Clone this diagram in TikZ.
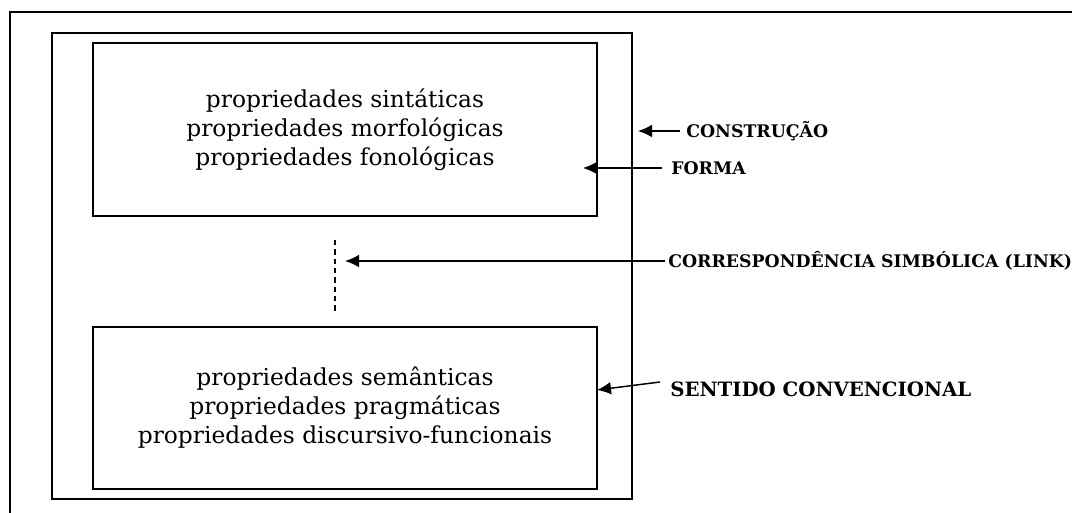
\documentclass[tikz,border=0pt]{standalone}
\usepackage{fontspec}
\setmainfont{DejaVu Serif}
\usetikzlibrary{arrows.meta}
\begin{document}
\begin{tikzpicture}[x=0.75pt,y=-0.75pt,
  frame/.style={line width=1.5pt},
  box/.style={draw, line width=1.5pt, inner sep=0pt},
  body/.style={align=center, font=\fontsize{17.5}{21.75}\selectfont},
  lbl/.style={anchor=west, inner sep=0pt, font=\bfseries\fontsize{13}{15}\selectfont},
  biglbl/.style={anchor=west, inner sep=0pt, font=\bfseries\fontsize{14.8}{17}\selectfont},
  arr/.style={-{Latex[length=10.5pt,width=9.5pt]}, line width=1.1pt},
  link/.style={dashed, dash pattern=on 4pt off 3pt, line width=0.9pt}]
\useasboundingbox (0,0) rectangle (1072,513);
% outer (cropped) frame
\draw[frame] (1072,12) -- (10,12) -- (10,513);
% construction box
\node[box, minimum width=435pt, minimum height=349.5pt] (cons) at (342,266) {};
% form box
\node[box, body, minimum width=378pt, minimum height=129.75pt] (forma) at (345,129.5)
  {propriedades sintáticas\\propriedades morfológicas\\propriedades fonológicas};
% meaning box
\node[box, body, minimum width=378pt, minimum height=121.5pt] (sent) at (345,408)
  {propriedades semânticas\\propriedades pragmáticas\\propriedades discursivo-funcionais};
% symbolic link (dashed)
\coordinate (d1) at (335,240);
\coordinate (d2) at (335,313);
\draw[link] (d1) -- (d2);
% labels
\node[lbl] (lC) at (686,131) {CONSTRUÇÃO};
\node[lbl] (lF) at (671,168) {FORMA};
\node[lbl] (lL) at (668,261) {CORRESPONDÊNCIA SIMBÓLICA (LINK)};
\node[biglbl] (lS) at (670,389) {SENTIDO CONVENCIONAL};
% arrow targets
\coordinate (tC) at (638,131);
\coordinate (tF) at (583,168);
\coordinate (tL) at (345,261);
\coordinate (sS) at (660,382);
\coordinate (tS) at (597,390);
% arrows
\draw[arr] ([xshift=-4.5pt]lC.west) -- (tC);
\draw[arr] ([xshift=-6.75pt]lF.west) -- (tF);
\draw[arr] ([xshift=-2.25pt]lL.west) -- (tL);
\draw[arr] (sS) -- (tS);
\end{tikzpicture}
\end{document}
